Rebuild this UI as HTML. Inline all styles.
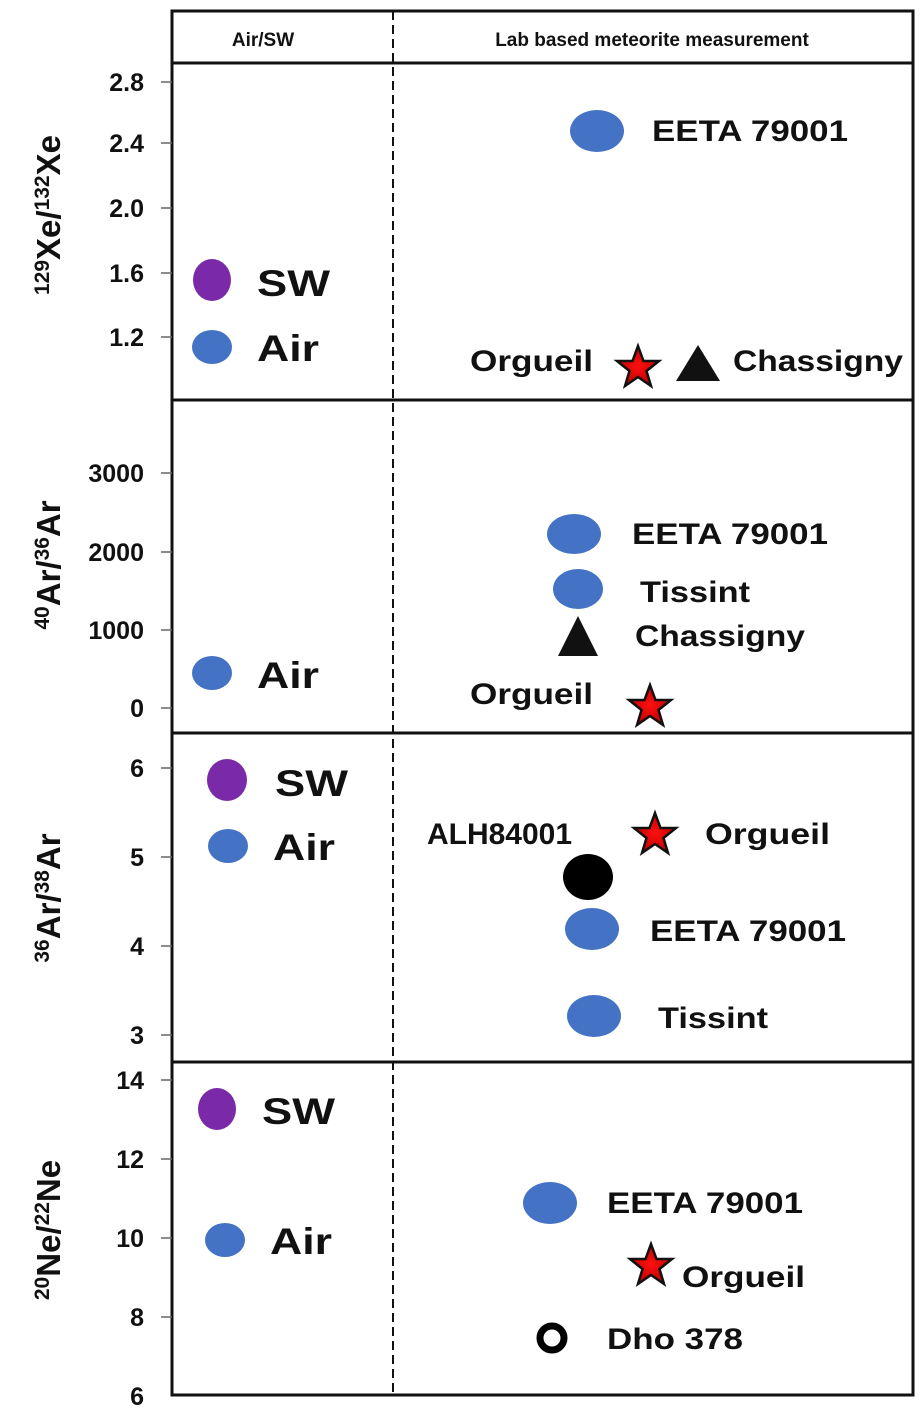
<!DOCTYPE html>
<html><head><meta charset="utf-8"><style>
html,body{margin:0;padding:0;background:#fff;}
svg{display:block;}
text{font-family:"Liberation Sans",sans-serif;font-weight:bold;fill:#111;}
.t{font-size:25px;text-anchor:end;}
.l{font-size:37px;}
.m{font-size:30px;}
.y{font-size:33px;}
</style></head><body>
<svg width="922" height="1411" viewBox="0 0 922 1411">
<defs>
<radialGradient id="rg"><stop offset="0" stop-color="#ff1010"/><stop offset="1" stop-color="#c00000"/></radialGradient>
<path id="star" d="M0,-22 L5.5,-7 L21,-7 L8.5,3 L13,18 L0,9 L-13,18 L-8.5,3 L-21,-7 L-5.5,-7Z" fill="url(#rg)" stroke="#111" stroke-width="2.5"/>
</defs>
<g stroke="#111" fill="none">
<rect x="172" y="11" width="741" height="1384" stroke-width="3"/>
<line x1="172" y1="63" x2="913" y2="63" stroke-width="3"/>
<line x1="172" y1="400" x2="913" y2="400" stroke-width="3"/>
<line x1="172" y1="733" x2="913" y2="733" stroke-width="3"/>
<line x1="172" y1="1062" x2="913" y2="1062" stroke-width="3"/>
<line x1="393" y1="11" x2="393" y2="1395" stroke-width="2" stroke-dasharray="9,5"/>
</g>
<text x="263" y="46" style="font-size:19px;text-anchor:middle">Air/SW</text>
<text x="652" y="46" style="font-size:19px;text-anchor:middle">Lab based meteorite measurement</text>
<g stroke="#666" stroke-width="1.5">
<line x1="161" y1="82" x2="172" y2="82"/><line x1="161" y1="143" x2="172" y2="143"/><line x1="161" y1="208" x2="172" y2="208"/><line x1="161" y1="273" x2="172" y2="273"/><line x1="161" y1="337" x2="172" y2="337"/>
<line x1="161" y1="473" x2="172" y2="473"/><line x1="161" y1="552" x2="172" y2="552"/><line x1="161" y1="630" x2="172" y2="630"/><line x1="161" y1="708" x2="172" y2="708"/>
<line x1="161" y1="768" x2="172" y2="768"/><line x1="161" y1="857" x2="172" y2="857"/><line x1="161" y1="946" x2="172" y2="946"/><line x1="161" y1="1035" x2="172" y2="1035"/>
<line x1="161" y1="1080" x2="172" y2="1080"/><line x1="161" y1="1159" x2="172" y2="1159"/><line x1="161" y1="1238" x2="172" y2="1238"/><line x1="161" y1="1317" x2="172" y2="1317"/>
</g>
<text class="t" x="144" y="91">2.8</text><text class="t" x="144" y="152">2.4</text><text class="t" x="144" y="217">2.0</text><text class="t" x="144" y="282">1.6</text><text class="t" x="144" y="346">1.2</text>
<text class="t" x="144" y="482">3000</text><text class="t" x="144" y="561">2000</text><text class="t" x="144" y="639">1000</text><text class="t" x="144" y="717">0</text>
<text class="t" x="144" y="777">6</text><text class="t" x="144" y="866">5</text><text class="t" x="144" y="955">4</text><text class="t" x="144" y="1044">3</text>
<text class="t" x="144" y="1089">14</text><text class="t" x="144" y="1168">12</text><text class="t" x="144" y="1247">10</text><text class="t" x="144" y="1326">8</text><text class="t" x="144" y="1405">6</text>
<text class="y" transform="translate(60,215) rotate(-90)" text-anchor="middle"><tspan font-size="21" dy="-11">129</tspan><tspan dy="11">Xe/</tspan><tspan font-size="21" dy="-11">132</tspan><tspan dy="11">Xe</tspan></text>
<text class="y" transform="translate(60,565) rotate(-90)" text-anchor="middle"><tspan font-size="21" dy="-11">40</tspan><tspan dy="11">Ar/</tspan><tspan font-size="21" dy="-11">36</tspan><tspan dy="11">Ar</tspan></text>
<text class="y" transform="translate(60,898) rotate(-90)" text-anchor="middle"><tspan font-size="21" dy="-11">36</tspan><tspan dy="11">Ar/</tspan><tspan font-size="21" dy="-11">38</tspan><tspan dy="11">Ar</tspan></text>
<text class="y" transform="translate(60,1230) rotate(-90)" text-anchor="middle"><tspan font-size="21" dy="-11">20</tspan><tspan dy="11">Ne/</tspan><tspan font-size="21" dy="-11">22</tspan><tspan dy="11">Ne</tspan></text>
<g>
<ellipse cx="212" cy="280" rx="19" ry="21" fill="#7a2aa8"/><text class="l" x="257" y="296" textLength="73" lengthAdjust="spacingAndGlyphs">SW</text>
<ellipse cx="212" cy="347" rx="20" ry="17" fill="#4472c4"/><text class="l" x="257" y="361" textLength="62" lengthAdjust="spacingAndGlyphs">Air</text>
<ellipse cx="597" cy="131" rx="27" ry="21" fill="#4472c4"/><text class="m" x="652" y="141" textLength="196" lengthAdjust="spacingAndGlyphs">EETA 79001</text>
<use href="#star" x="638" y="368"/><text class="m" x="470" y="371" textLength="123" lengthAdjust="spacingAndGlyphs">Orgueil</text>
<polygon points="698,345 676,381 720,381" fill="#111"/><text class="m" x="733" y="371" textLength="170" lengthAdjust="spacingAndGlyphs">Chassigny</text>
<ellipse cx="212" cy="673" rx="20" ry="17" fill="#4472c4"/><text class="l" x="257" y="688" textLength="62" lengthAdjust="spacingAndGlyphs">Air</text>
<ellipse cx="574" cy="534" rx="27" ry="20" fill="#4472c4"/><text class="m" x="632" y="544" textLength="196" lengthAdjust="spacingAndGlyphs">EETA 79001</text>
<ellipse cx="578" cy="589" rx="25" ry="20" fill="#4472c4"/><text class="m" x="640" y="602" textLength="110" lengthAdjust="spacingAndGlyphs">Tissint</text>
<polygon points="578,616 558,656 598,656" fill="#111"/><text class="m" x="635" y="646" textLength="170" lengthAdjust="spacingAndGlyphs">Chassigny</text>
<use href="#star" x="650" y="707"/><text class="m" x="470" y="704" textLength="123" lengthAdjust="spacingAndGlyphs">Orgueil</text>
<ellipse cx="227" cy="780" rx="20" ry="21" fill="#7a2aa8"/><text class="l" x="275" y="796" textLength="73" lengthAdjust="spacingAndGlyphs">SW</text>
<ellipse cx="228" cy="846" rx="20" ry="17" fill="#4472c4"/><text class="l" x="273" y="860" textLength="62" lengthAdjust="spacingAndGlyphs">Air</text>
<text class="m" x="427" y="844" textLength="145" lengthAdjust="spacingAndGlyphs">ALH84001</text>
<use href="#star" x="655" y="835"/><text class="m" x="705" y="844" textLength="125" lengthAdjust="spacingAndGlyphs">Orgueil</text>
<ellipse cx="588" cy="877" rx="25" ry="23" fill="#000"/>
<ellipse cx="592" cy="929" rx="27" ry="21" fill="#4472c4"/><text class="m" x="650" y="941" textLength="196" lengthAdjust="spacingAndGlyphs">EETA 79001</text>
<ellipse cx="594" cy="1016" rx="27" ry="21" fill="#4472c4"/><text class="m" x="658" y="1028" textLength="110" lengthAdjust="spacingAndGlyphs">Tissint</text>
<ellipse cx="217" cy="1109" rx="19" ry="21" fill="#7a2aa8"/><text class="l" x="262" y="1124" textLength="73" lengthAdjust="spacingAndGlyphs">SW</text>
<ellipse cx="225" cy="1240" rx="20" ry="17" fill="#4472c4"/><text class="l" x="270" y="1254" textLength="62" lengthAdjust="spacingAndGlyphs">Air</text>
<ellipse cx="550" cy="1203" rx="27" ry="21" fill="#4472c4"/><text class="m" x="607" y="1213" textLength="196" lengthAdjust="spacingAndGlyphs">EETA 79001</text>
<use href="#star" x="651" y="1266"/><text class="m" x="682" y="1287" textLength="123" lengthAdjust="spacingAndGlyphs">Orgueil</text>
<circle cx="552" cy="1338" r="12" fill="none" stroke="#000" stroke-width="7"/><text class="m" x="607" y="1349" textLength="136" lengthAdjust="spacingAndGlyphs">Dho 378</text>
</g>
</svg>
</body></html>
